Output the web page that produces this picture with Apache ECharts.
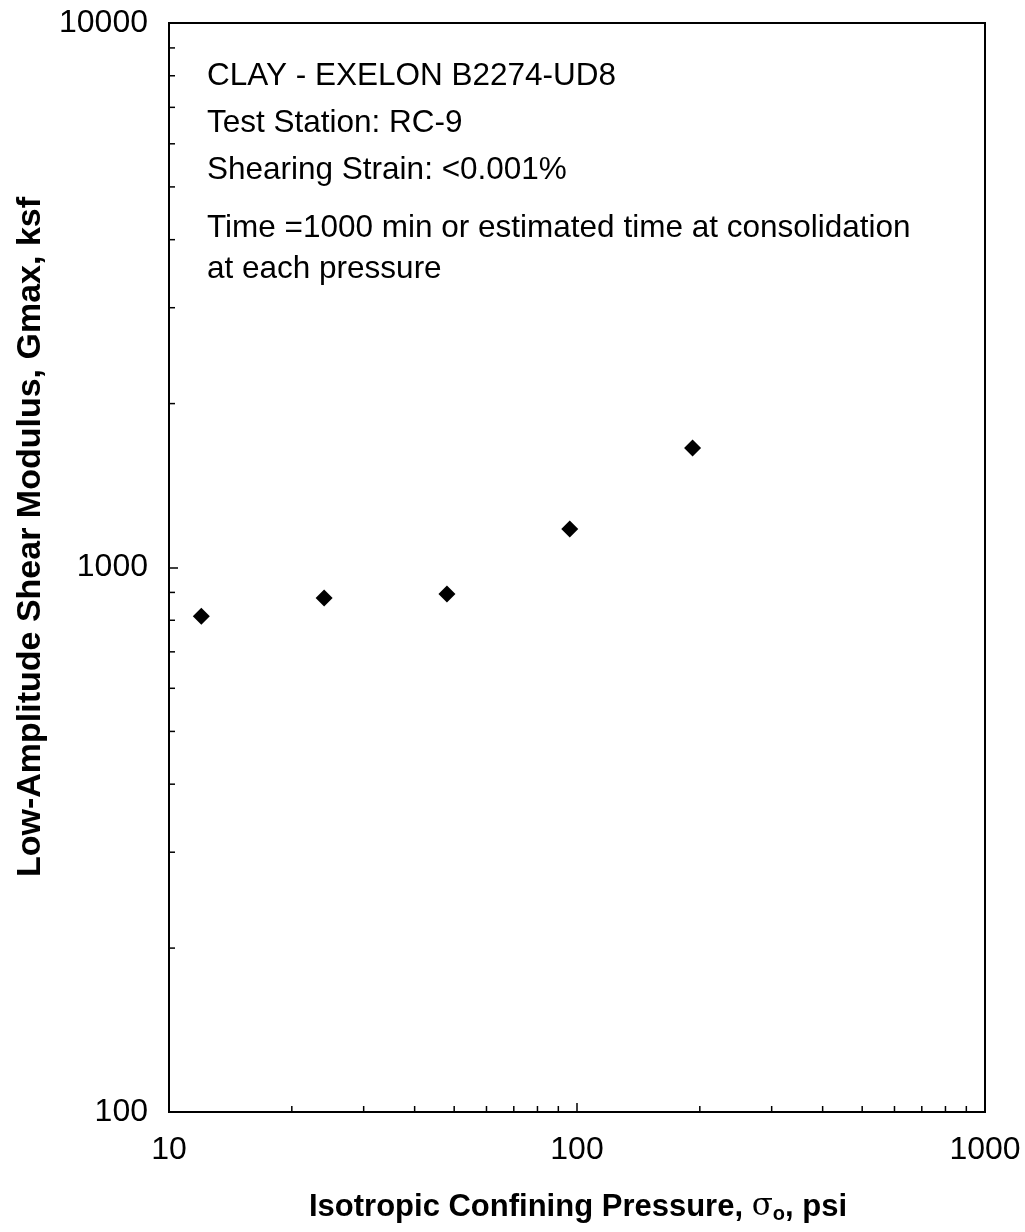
<!DOCTYPE html>
<html>
<head>
<meta charset="utf-8">
<script src="https://cdn.jsdelivr.net/npm/echarts@6/dist/echarts.min.js"></script>
<style>
  html, body { margin: 0; padding: 0; background: #fff; }
  #chart { width: 1025px; height: 1232px; }
</style>
</head>
<body>
<div id="chart"></div>
<script>
// Resonant-column results: confining pressure (psi) vs low-amplitude shear modulus (ksf)
const pressures = [12, 24, 48, 96, 192];
const gmaxValues = [814, 879, 894, 1177, 1658];

// Axis ranges and minor tick positions (log decades)
const xRange = [10, 1000];
const yRange = [100, 10000];
const xMinorTicks = [20, 30, 40, 50, 60, 70, 80, 90, 200, 300, 400, 500, 600, 700, 800, 900];
const yMinorTicks = [200, 300, 400, 500, 600, 700, 800, 900, 2000, 3000, 4000, 5000, 6000, 7000, 8000, 9000];

const noteLines = [
  'CLAY - EXELON B2274-UD8',
  'Test Station: RC-9',
  'Shearing Strain: <0.001%',
  'Time =1000 min or estimated time at consolidation',
  'at each pressure'
];
const noteLineY = [77, 124, 171, 229, 270];

const FONT = '"Liberation Sans", Arial, sans-serif';

const points = pressures.map((p, i) => [p, gmaxValues[i]]);

// minor tick marks: [x, y, dir] where dir 0 = bottom axis, 1 = left axis
const minorData = xMinorTicks.map(v => [v, yRange[0], 0])
  .concat(yMinorTicks.map(v => [xRange[0], v, 1]));

const chart = echarts.init(document.getElementById('chart'), null, { renderer: 'canvas' });

const option = {
  backgroundColor: '#ffffff',
  animation: false,
  grid: {
    left: 169, top: 23, right: 40, bottom: 120,
    show: true, borderColor: '#000', borderWidth: 2, backgroundColor: 'transparent'
  },
  xAxis: {
    type: 'log', logBase: 10, min: xRange[0], max: xRange[1],
    axisLine: { show: true, lineStyle: { color: '#000', width: 2 } },
    axisTick: { show: true, inside: true, length: 9, lineStyle: { color: '#000', width: 1.5 } },
    splitLine: { show: false },
    axisLabel: { color: '#000', fontSize: 32, fontFamily: FONT, margin: 22,
      formatter: v => String(Math.round(v)) }
  },
  yAxis: {
    type: 'log', logBase: 10, min: yRange[0], max: yRange[1],
    axisLine: { show: true, lineStyle: { color: '#000', width: 2 } },
    axisTick: { show: true, inside: true, length: 9, lineStyle: { color: '#000', width: 1.5 } },
    splitLine: { show: false },
    axisLabel: { color: '#000', fontSize: 32, fontFamily: FONT, margin: 21,
      formatter: v => String(Math.round(v)) }
  },
  series: [
    {
      type: 'custom',
      silent: true,
      data: minorData,
      clip: false,
      renderItem: function (params, api) {
        const p = api.coord([api.value(0), api.value(1)]);
        const dir = api.value(2);
        const len = 6;
        const shape = dir === 0
          ? { x1: p[0], y1: p[1], x2: p[0], y2: p[1] - len }
          : { x1: p[0], y1: p[1], x2: p[0] + len, y2: p[1] };
        return { type: 'line', shape: shape, style: { stroke: '#000', lineWidth: 1.5 } };
      },
      z: 3
    },
    {
      type: 'scatter',
      data: points,
      symbol: 'diamond',
      symbolSize: [17, 17],
      itemStyle: { color: '#000', opacity: 1 },
      z: 5
    }
  ],
  graphic: [
    ...noteLines.map((t, i) => ({
      type: 'text', left: 207, top: noteLineY[i] - 17,
      style: { text: t, fill: '#000', font: '31.5px ' + FONT }
    })),
    {
      type: 'text', x: 31, y: 537, rotation: Math.PI / 2,
      style: {
        text: 'Low-Amplitude Shear Modulus, Gmax, ksf',
        fill: '#000', font: 'bold 34px ' + FONT,
        align: 'center', verticalAlign: 'middle'
      }
    },
    {
      type: 'text', x: 578, y: 1207,
      style: {
        text: '{t|Isotropic Confining Pressure, }{s|σ}{sub|o}{t|, psi}',
        align: 'center', verticalAlign: 'middle',
        rich: {
          t: { fill: '#000', font: 'bold 31px ' + FONT },
          s: { fill: '#000', font: '31px "DejaVu Serif", serif' },
          sub: { fill: '#000', font: 'bold 20px ' + FONT, padding: [15, 0, 0, 0] }
        }
      }
    }
  ]
};

chart.setOption(option);
</script>
</body>
</html>
